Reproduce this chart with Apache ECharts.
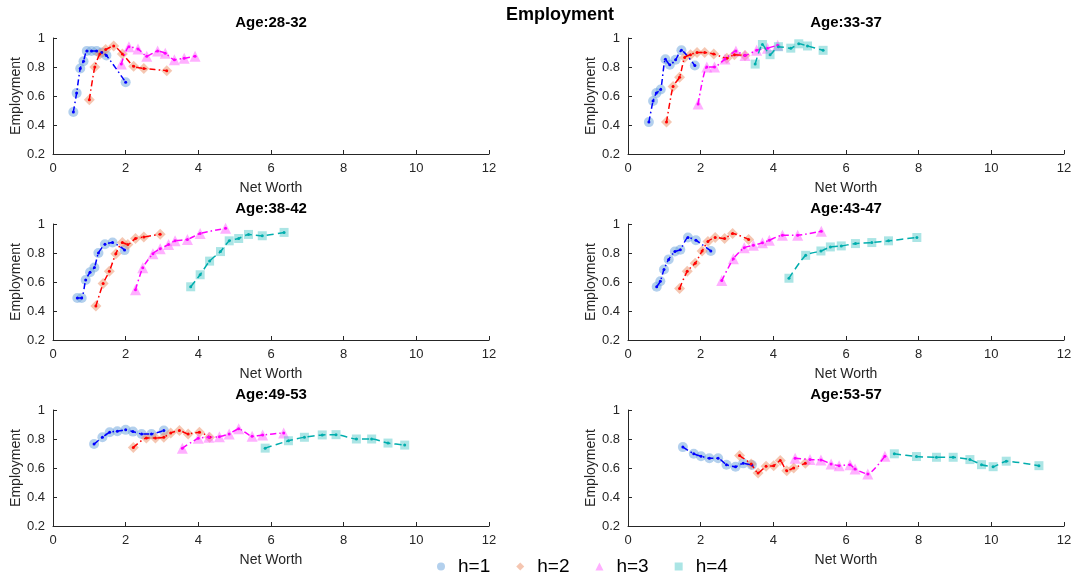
<!DOCTYPE html>
<html>
<head>
<meta charset="utf-8">
<script src="https://cdn.jsdelivr.net/npm/echarts@6/dist/echarts.min.js"></script>
<style>
    html, body {margin: 0; background: #fff;}
    #chart {width: 1078px; height: 581px;}
</style>
</head>
<body>
<div id="chart"></div>
<script>
// panel titles and legend names
var AGES = ['Age:28-32', 'Age:33-37', 'Age:38-42', 'Age:43-47', 'Age:49-53', 'Age:53-57'];
var GROUPS = ['h=1', 'h=2', 'h=3', 'h=4'];

// [net worth, employment]
var age2832_h1 = [[0.56, 0.49], [0.65, 0.62], [0.75, 0.79], [0.84, 0.84], [0.93, 0.91], [1.06, 0.91], [1.2, 0.91], [1.34, 0.9], [1.47, 0.88], [2.0, 0.695]];
var age2832_h2 = [[1.0, 0.575], [1.15, 0.8], [1.29, 0.89], [1.45, 0.92], [1.67, 0.945], [1.91, 0.89], [2.22, 0.805], [2.5, 0.79], [3.13, 0.775]];
var age2832_h3 = [[1.88, 0.82], [2.09, 0.94], [2.34, 0.925], [2.58, 0.875], [2.88, 0.91], [3.09, 0.895], [3.34, 0.85], [3.61, 0.86], [3.91, 0.875]];
var age2832_h4 = [];

var age3337_h1 = [[0.575, 0.42], [0.69, 0.565], [0.78, 0.62], [0.9, 0.645], [1.03, 0.853], [1.15, 0.815], [1.31, 0.85], [1.47, 0.915], [1.84, 0.81]];
var age3337_h2 = [[1.06, 0.42], [1.24, 0.665], [1.42, 0.73], [1.56, 0.865], [1.72, 0.885], [1.9, 0.9], [2.11, 0.9], [2.36, 0.89], [2.72, 0.86], [2.93, 0.885], [3.22, 0.88]];
var age3337_h3 = [[1.93, 0.545], [2.17, 0.8], [2.38, 0.8], [2.67, 0.855], [2.97, 0.91], [3.22, 0.88], [3.54, 0.915], [3.84, 0.93], [4.12, 0.95]];
var age3337_h4 = [[3.5, 0.82], [3.7, 0.955], [3.91, 0.885], [4.14, 0.94], [4.48, 0.93], [4.7, 0.96], [4.94, 0.945], [5.37, 0.915]];

var age3842_h1 = [[0.67, 0.49], [0.79, 0.49], [0.9, 0.614], [1.02, 0.667], [1.14, 0.7], [1.25, 0.8], [1.43, 0.86], [1.64, 0.872], [1.97, 0.82]];
var age3842_h2 = [[1.18, 0.435], [1.38, 0.59], [1.55, 0.674], [1.73, 0.795], [1.91, 0.872], [2.06, 0.858], [2.27, 0.9], [2.5, 0.91], [2.95, 0.93]];
var age3842_h3 = [[2.27, 0.547], [2.47, 0.698], [2.75, 0.795], [2.95, 0.83], [3.18, 0.858], [3.36, 0.884], [3.7, 0.893], [4.05, 0.935], [4.75, 0.97]];
var age3842_h4 = [[3.79, 0.567], [4.05, 0.65], [4.31, 0.744], [4.61, 0.81], [4.85, 0.884], [5.11, 0.9], [5.38, 0.928], [5.76, 0.919], [6.36, 0.942]];

var age4347_h1 = [[0.79, 0.567], [0.89, 0.605], [0.99, 0.686], [1.12, 0.756], [1.29, 0.81], [1.44, 0.823], [1.65, 0.907], [1.87, 0.888], [2.28, 0.814]];
var age4347_h2 = [[1.42, 0.556], [1.63, 0.674], [1.85, 0.73], [2.04, 0.814], [2.2, 0.88], [2.4, 0.907], [2.66, 0.9], [2.88, 0.935], [3.32, 0.893]];
var age4347_h3 = [[2.58, 0.61], [2.9, 0.76], [3.2, 0.837], [3.45, 0.853], [3.7, 0.87], [3.89, 0.888], [4.25, 0.923], [4.67, 0.923], [5.32, 0.95]];
var age4347_h4 = [[4.43, 0.626], [4.89, 0.784], [5.31, 0.814], [5.57, 0.842], [5.87, 0.849], [6.26, 0.865], [6.71, 0.872], [7.17, 0.884], [7.95, 0.907]];

var age4953_h1 = [[1.13, 0.765], [1.36, 0.812], [1.56, 0.847], [1.77, 0.853], [2.0, 0.863], [2.2, 0.851], [2.44, 0.835], [2.71, 0.835], [3.05, 0.858]];
var age4953_h2 = [[2.21, 0.742], [2.57, 0.807], [2.82, 0.807], [3.05, 0.812], [3.24, 0.842], [3.48, 0.858], [3.72, 0.835], [4.03, 0.847], [4.31, 0.812]];
var age4953_h3 = [[3.56, 0.737], [4.0, 0.805], [4.29, 0.812], [4.58, 0.816], [4.85, 0.835], [5.11, 0.87], [5.48, 0.819], [5.77, 0.828], [6.35, 0.842]];
var age4953_h4 = [[5.84, 0.737], [6.48, 0.788], [6.92, 0.812], [7.41, 0.828], [7.79, 0.83], [8.35, 0.8], [8.77, 0.8], [9.22, 0.772], [9.68, 0.758]];

var age5357_h1 = [[1.51, 0.744], [1.81, 0.698], [2.01, 0.681], [2.24, 0.667], [2.48, 0.667], [2.71, 0.623], [2.96, 0.609], [3.17, 0.632], [3.41, 0.621]];
var age5357_h2 = [[3.07, 0.686], [3.39, 0.628], [3.58, 0.565], [3.8, 0.612], [4.01, 0.616], [4.19, 0.651], [4.37, 0.581], [4.56, 0.6], [4.88, 0.632]];
var age5357_h3 = [[4.6, 0.667], [5.01, 0.658], [5.31, 0.656], [5.59, 0.628], [5.81, 0.616], [6.11, 0.623], [6.25, 0.593], [6.6, 0.558], [7.07, 0.681]];
var age5357_h4 = [[7.33, 0.698], [7.94, 0.679], [8.49, 0.674], [8.95, 0.674], [9.41, 0.658], [9.73, 0.623], [10.05, 0.609], [10.41, 0.647], [11.31, 0.616]];

var PANELS = [
    [age2832_h1, age2832_h2, age2832_h3, age2832_h4],
    [age3337_h1, age3337_h2, age3337_h3, age3337_h4],
    [age3842_h1, age3842_h2, age3842_h3, age3842_h4],
    [age4347_h1, age4347_h2, age4347_h3, age4347_h4],
    [age4953_h1, age4953_h2, age4953_h3, age4953_h4],
    [age5357_h1, age5357_h2, age5357_h3, age5357_h4]
];

// 样式
var MARKERS = ['circle', 'diamond', 'triangle', 'rect'];
var MARKER_SIZE = [10, 11, 11, 9];
var FILL = ['rgba(110,165,220,0.65)', 'rgba(235,145,105,0.65)', 'rgba(255,90,255,0.6)', 'rgba(80,200,200,0.6)'];
var LINE = ['#0000ff', '#ff0000', '#ff00ff', '#00adad'];
var DASH = [[6, 3, 1.5, 3], [6, 3, 1.5, 3], [6, 3, 1.5, 3], [7, 4]];
var FONT = 'Liberation Sans, Arial, sans-serif';

var GRID_LEFT = [53, 628];
var GRID_TOP = [38, 224, 410];

var chart = echarts.init(document.getElementById('chart'));

var titles = [{
    text: 'Employment',
    left: 560,
    top: 6,
    padding: 0,
    textAlign: 'center',
    textStyle: {fontFamily: FONT, fontSize: 18, fontWeight: 'bold', color: '#000'}
}];
var grids = [];
var xAxes = [];
var yAxes = [];
var series = [];

PANELS.forEach(function (panel, p) {
    var left = GRID_LEFT[p % 2];
    var top = GRID_TOP[Math.floor(p / 2)];
    grids.push({left: left, top: top, width: 436, height: 116});
    titles.push({
        text: AGES[p],
        left: left + 218,
        top: top - 23,
        padding: 0,
        textAlign: 'center',
        textStyle: {fontFamily: FONT, fontSize: 15, fontWeight: 'bold', color: '#000'}
    });
    var axisCommon = {
        gridIndex: p,
        type: 'value',
        axisLine: {lineStyle: {color: '#262626', width: 1}},
        axisTick: {inside: true, length: 4, lineStyle: {color: '#262626'}},
        axisLabel: {fontFamily: FONT, fontSize: 13, color: '#262626'},
        splitLine: {show: false},
        nameLocation: 'middle',
        nameTextStyle: {fontFamily: FONT, fontSize: 14, color: '#262626'}
    };
    xAxes.push(Object.assign({}, axisCommon, {
        min: 0, max: 12, interval: 2,
        name: 'Net Worth', nameGap: 27,
        axisLabel: Object.assign({}, axisCommon.axisLabel, {margin: 8})
    }));
    yAxes.push(Object.assign({}, axisCommon, {
        min: 0.2, max: 1, interval: 0.2,
        name: 'Employment', nameGap: 29
    }));
    panel.forEach(function (pts, h) {
        if (!pts.length) {
            return;
        }
        series.push({
            name: GROUPS[h],
            type: 'scatter',
            xAxisIndex: p,
            yAxisIndex: p,
            symbol: MARKERS[h],
            symbolSize: MARKER_SIZE[h],
            itemStyle: {color: FILL[h]},
            data: pts,
            z: 2
        });
        series.push({
            name: GROUPS[h] + ' line',
            type: 'line',
            xAxisIndex: p,
            yAxisIndex: p,
            smooth: 0.2,
            symbol: 'circle',
            symbolSize: 3,
            itemStyle: {color: LINE[h]},
            lineStyle: {color: LINE[h], width: 1.5, type: DASH[h]},
            data: pts,
            z: 3
        });
    });
});

var option = {
    animation: false,
    backgroundColor: '#fff',
    title: titles,
    grid: grids,
    xAxis: xAxes,
    yAxis: yAxes,
    legend: {
        data: GROUPS.map(function (g, i) {
            return {name: g, icon: MARKERS[i]};
        }),
        top: 557,
        left: 437,
        padding: 0,
        itemWidth: 8,
        itemHeight: 8,
        itemGap: 26,
        textStyle: {fontFamily: FONT, fontSize: 19, color: '#000', padding: [0, 0, 0, 8]}
    },
    series: series
};
chart.setOption(option);
</script>
</body>
</html>
